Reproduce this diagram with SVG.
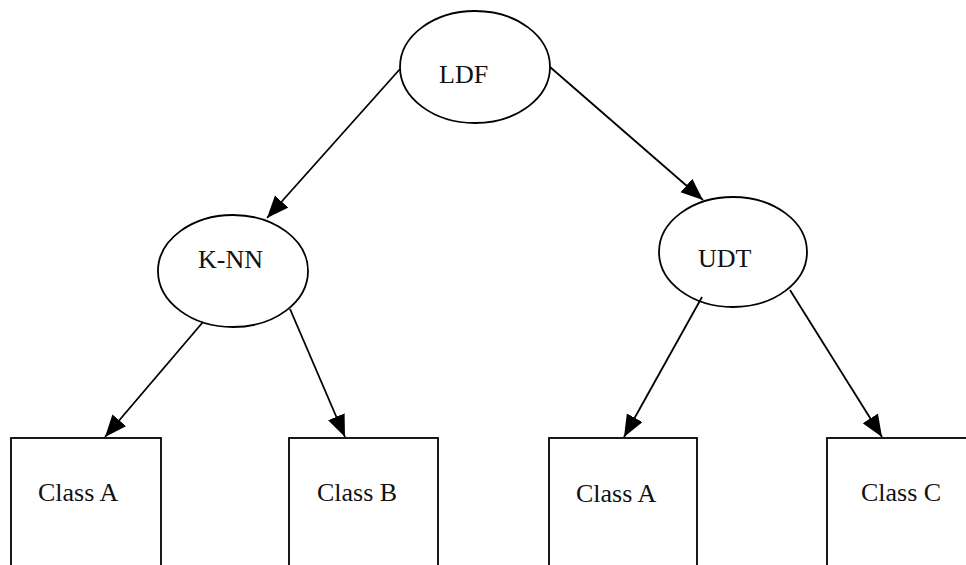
<svg xmlns="http://www.w3.org/2000/svg" width="966" height="565" viewBox="0 0 966 565">
<style>
.n{fill:#fff;stroke:#000;stroke-width:1.8}
.t{font-family:"Liberation Serif","Times New Roman",serif;font-size:26px;fill:#111}
.c line{stroke:#000;stroke-width:1.8}
</style>
<defs>
<marker id="ah" markerUnits="userSpaceOnUse" markerWidth="24" markerHeight="20" refX="22" refY="9" orient="auto" viewBox="0 0 24 20">
<path d="M0,0 L22,9 L0,18 z" fill="#000"/>
</marker>
</defs>
<rect width="966" height="565" fill="#fff"/>
<g id="n-ldf"><ellipse class="n" cx="475" cy="67" rx="75" ry="56"/><text class="t" x="439" y="83">LDF</text></g>
<g id="n-knn"><ellipse class="n" cx="233" cy="271" rx="75" ry="56"/><text class="t" x="198" y="268">K-NN</text></g>
<g id="n-udt"><ellipse class="n" cx="733" cy="252" rx="74" ry="55"/><text class="t" x="698" y="267">UDT</text></g>
<g id="n-a1"><rect class="n" x="11" y="438" width="150" height="140"/><text class="t" x="38" y="501">Class A</text></g>
<g id="n-b"><rect class="n" x="289" y="438" width="149" height="140"/><text class="t" x="317" y="501">Class B</text></g>
<g id="n-a2"><rect class="n" x="549" y="438" width="148" height="140"/><text class="t" x="576" y="502">Class A</text></g>
<g id="n-c"><rect class="n" x="827" y="438" width="149" height="140"/><text class="t" x="861" y="501">Class C</text></g>
<g class="c" id="connectors">
<line x1="400" y1="69" x2="267" y2="218" marker-end="url(#ah)"/>
<line x1="550" y1="67" x2="703" y2="200" marker-end="url(#ah)"/>
<line x1="203" y1="322" x2="105" y2="437" marker-end="url(#ah)"/>
<line x1="290" y1="309" x2="345" y2="437" marker-end="url(#ah)"/>
<line x1="702" y1="297" x2="624" y2="437" marker-end="url(#ah)"/>
<line x1="790" y1="290" x2="882" y2="437" marker-end="url(#ah)"/>
</g>
</svg>
